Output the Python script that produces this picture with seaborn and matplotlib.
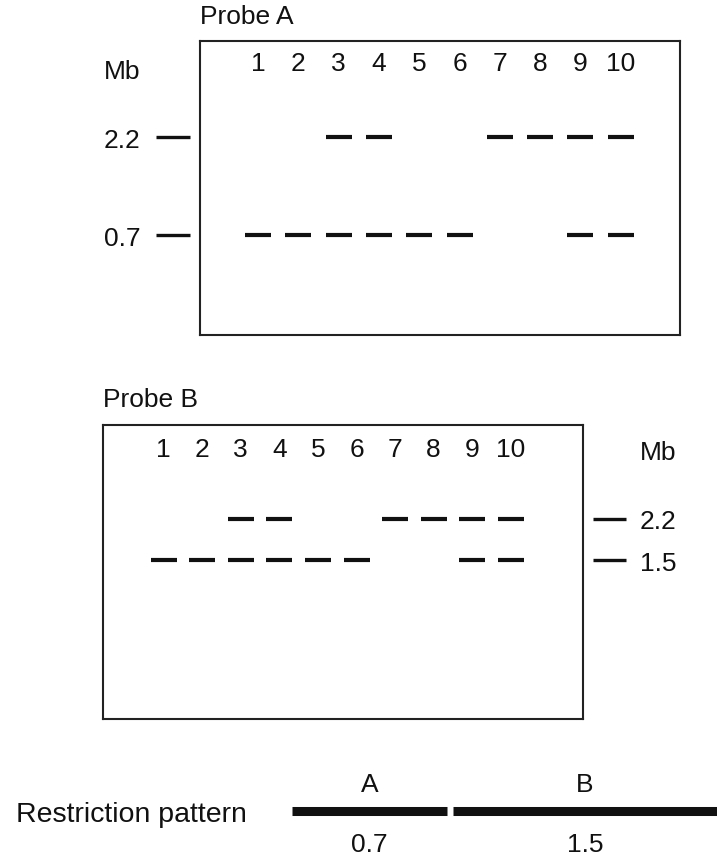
import pandas as pd
import seaborn as sns
import matplotlib.pyplot as plt

lanes = [1, 2, 3, 4, 5, 6, 7, 8, 9, 10]
probe_a_22 = [3, 4, 7, 8, 9, 10]
probe_a_07 = [1, 2, 3, 4, 5, 6, 9, 10]
probe_b_22 = [3, 4, 7, 8, 9, 10]
probe_b_15 = [1, 2, 3, 4, 5, 6, 9, 10]
probe_a_markers = [2.2, 0.7]
probe_b_markers = [2.2, 1.5]

# restriction map
fragments = ['A', 'B']
fragment_mb = [0.7, 1.5]

sns.set_style('white')
plt.rcParams['font.family'] = ['Liberation Sans', 'DejaVu Sans']
FS = 19
INK = '#111111'


def band_frame(band_lists, sizes):
    rows = []
    for lane_list, mb in zip(band_lists, sizes):
        for lane in lane_list:
            rows.append({'lane': lane, 'mb': mb})
    return pd.DataFrame(rows)


def draw_blot(ax, df, markers, xlim, ylim, label_y, side):
    sns.scatterplot(data=df, x='lane', y='mb', marker='_', s=370, linewidth=3.0,
                    color=INK, edgecolor=INK, legend=False, ax=ax)
    ax.set_yscale('log')
    ax.set_xlim(*xlim)
    ax.set_ylim(*ylim)
    ax.set_xticks([])
    ax.minorticks_off()
    ax.set_yticks(markers, labels=[str(m) for m in markers])
    ax.set_xlabel('')
    ax.set_ylabel('')
    for sp in ax.spines.values():
        sp.set_visible(True)
        sp.set_linewidth(1.5)
        sp.set_color('#222222')
    for lane in lanes:
        ax.text(lane, label_y, str(lane), transform=ax.get_xaxis_transform(),
                ha='center', va='center', fontsize=FS, color=INK)
    if side == 'left':
        ax.tick_params(axis='y', length=0, pad=43, labelsize=FS, labelcolor=INK)
        ax.hlines(markers, -0.092, -0.021, transform=ax.get_yaxis_transform(),
                  colors=INK, linewidth=2.4, clip_on=False)
    else:
        ax.yaxis.tick_right()
        ax.tick_params(axis='y', length=0, pad=41, labelsize=FS, labelcolor=INK)
        ax.hlines(markers, 1.021, 1.09, transform=ax.get_yaxis_transform(),
                  colors=INK, linewidth=2.4, clip_on=False)


fig = plt.figure(figsize=(7.17, 8.62), dpi=100)

# Probe A
ax_a = fig.add_axes([200 / 717, 1 - 336 / 862, 480 / 717, 294 / 862])
draw_blot(ax_a, band_frame([probe_a_22, probe_a_07], probe_a_markers),
          probe_a_markers, (-0.44, 11.47), (0.2176, 6.755), 0.925, 'left')
ax_a.text(0.0, 1.085, 'Probe A', transform=ax_a.transAxes, ha='left', va='center',
          fontsize=FS, color=INK)
ax_a.text(-0.125, 0.898, 'Mb', transform=ax_a.transAxes, ha='right', va='center',
          fontsize=FS, color=INK)

# Probe B
ax_b = fig.add_axes([103 / 717, 1 - 720 / 862, 480 / 717, 294 / 862])
draw_blot(ax_b, band_frame([probe_b_22, probe_b_15], probe_b_markers),
          probe_b_markers, (-0.57, 11.87), (0.340, 5.29), 0.918, 'right')
ax_b.text(0.0, 1.088, 'Probe B', transform=ax_b.transAxes, ha='left', va='center',
          fontsize=FS, color=INK)
ax_b.text(1.119, 0.908, 'Mb', transform=ax_b.transAxes, ha='left', va='center',
          fontsize=FS, color=INK)

# restriction pattern bar
ax_r = fig.add_axes([292 / 717, 2 / 862, 425 / 717, 96 / 862])
ax_r.set_xlim(0, 1.923)
ax_r.set_ylim(0, 1)
ax_r.axis('off')
gap = 0.027
start = 0.0
for name, mb in zip(fragments, fragment_mb):
    end = start + mb
    ax_r.hlines(0.5, start, end, colors=INK, linewidth=6.5, capstyle='butt')
    mid = (start + min(end, 1.923)) / 2
    ax_r.text(mid, 0.78, name, ha='center', va='center', fontsize=FS, color=INK)
    ax_r.text(mid, 0.16, str(mb), ha='center', va='center', fontsize=FS, color=INK)
    start = end + gap
ax_r.text(-0.649, 0.47, 'Restriction pattern', transform=ax_r.transAxes,
          ha='left', va='center', fontsize=20.5, color=INK)

fig.savefig('out.png', dpi=100)
